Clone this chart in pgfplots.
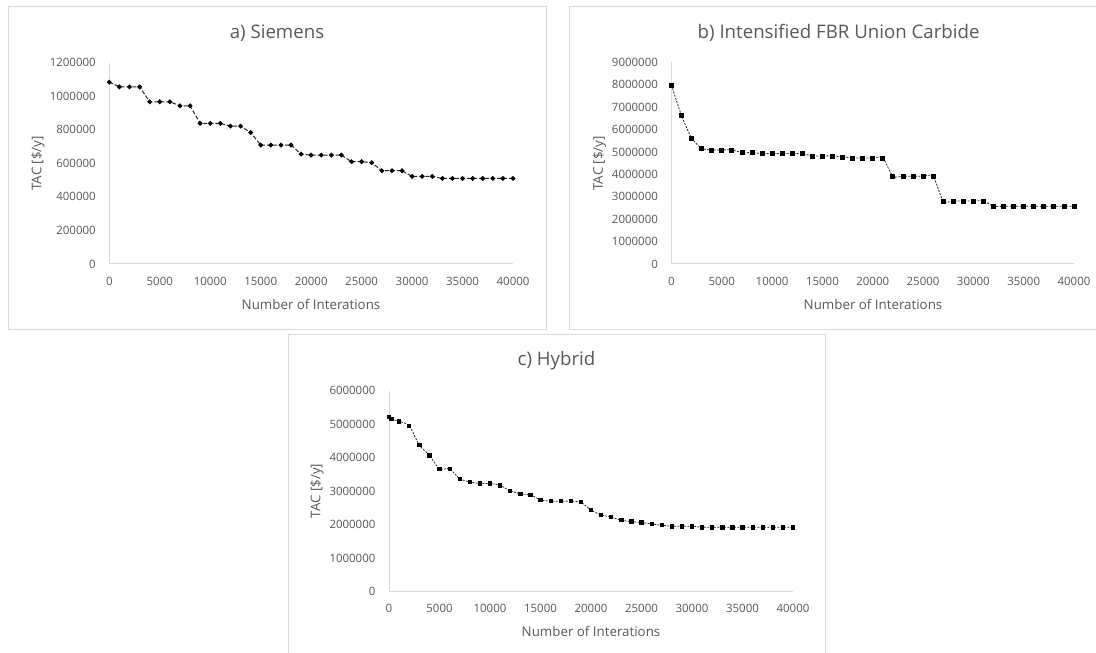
\documentclass[border=0pt]{standalone}
\usepackage{fontspec}
\setmainfont{Open Sans}
\usepackage{pgfplots}
\pgfplotsset{compat=1.18}
\definecolor{txt}{HTML}{595959}
\definecolor{axc}{HTML}{D9D9D9}
\definecolor{ln}{HTML}{262626}
\pgfplotsset{exc/.style={
 scale only axis, anchor=south west,
 xmin=0, xmax=40000, ymin=0,
 axis x line*=bottom, axis y line*=left,
 axis line style={axc, line width=0.75pt},
 major tick length=0pt,
 xtick={0,5000,...,40000},
 tick label style={font=\fontsize{8.6}{10}\selectfont, text=txt, inner sep=0pt},
 xticklabel style={anchor=center, yshift=-12.75pt},
 yticklabel style={anchor=east, xshift=-10pt},
 scaled ticks=false,
 /pgf/number format/fixed,
 /pgf/number format/precision=0,
 /pgf/number format/1000 sep={},
 /pgf/number format/assume math mode=true,
 clip=false,
}}
\pgfplotstableread{
x y
0 1084000
1000 1056000
2000 1056000
3000 1056000
4000 967000
5000 967000
6000 967000
7000 943000
8000 943000
9000 838000
10000 838000
11000 838000
12000 822000
13000 822000
14000 784000
15000 709000
16000 709000
17000 709000
18000 709000
19000 655000
20000 649000
21000 649000
22000 649000
23000 649000
24000 610000
25000 610000
26000 604000
27000 556000
28000 556000
29000 556000
30000 522000
31000 522000
32000 522000
33000 510000
34000 510000
35000 510000
36000 510000
37000 510000
38000 510000
39000 510000
40000 510000
}\dataA
\pgfplotstableread{
x y
0 7976000
1000 6622000
2000 5625000
3000 5164000
4000 5089000
5000 5089000
6000 5089000
7000 4970000
8000 4970000
9000 4926000
10000 4926000
11000 4926000
12000 4926000
13000 4926000
14000 4821000
15000 4821000
16000 4821000
17000 4777000
18000 4732000
19000 4732000
20000 4732000
21000 4732000
22000 3914000
23000 3914000
24000 3914000
25000 3914000
26000 3914000
27000 2813000
28000 2813000
29000 2813000
30000 2813000
31000 2813000
32000 2574000
33000 2574000
34000 2574000
35000 2574000
36000 2574000
37000 2574000
38000 2574000
39000 2574000
40000 2574000
}\dataB
\pgfplotstableread{
x y
0 5224000
240 5155000
1000 5085000
2000 4955000
3000 4377000
4000 4068000
5000 3669000
6000 3669000
7000 3370000
8000 3280000
9000 3230000
10000 3230000
11000 3170000
12000 3011000
13000 2921000
14000 2891000
15000 2742000
16000 2702000
17000 2702000
18000 2702000
19000 2672000
20000 2433000
21000 2293000
22000 2223000
23000 2134000
24000 2094000
25000 2064000
26000 2024000
27000 1984000
28000 1954000
29000 1954000
30000 1954000
31000 1924000
32000 1924000
33000 1924000
34000 1924000
35000 1924000
36000 1924000
37000 1924000
38000 1924000
39000 1924000
40000 1924000
}\dataC
\begin{document}
\begin{tikzpicture}
\useasboundingbox (0pt,0pt) rectangle (822pt,489.75pt);
\clip (0pt,0pt) rectangle (822pt,489.75pt);
\fill[white] (0pt,0pt) rectangle (822pt,489.75pt);
\draw[axc, line width=0.75pt] (6pt,242.25pt) rectangle (409.5pt,484.5pt);
\draw[axc, line width=0.75pt] (426.75pt,242.25pt) rectangle (831pt,484.5pt);
\draw[axc, line width=0.75pt] (216pt,-5pt) rectangle (618.75pt,238.5pt);
% panel a
\begin{axis}[exc, at={(81.98pt,291.75pt)}, width=302.8pt, height=150.98pt,
  ymax=1200000, ytick={0,200000,...,1200000}]
\addplot[ln, line width=0.75pt, dash pattern=on 3pt off 1.5pt, mark=*, mark size=1.4pt, mark options={solid, fill=black, draw=black}] table[x=x,y=y] {\dataA};
\end{axis}
% panel b
\begin{axis}[exc, at={(503.6pt,291.75pt)}, width=301.9pt, height=151.3pt,
  ymax=9000000, ytick={0,1000000,...,9000000}]
\addplot[ln, line width=0.6pt, dash pattern=on 1.5pt off 1pt, smooth, tension=0.4, mark=square*, mark size=1.5pt, mark options={solid, fill=black, draw=black}] table[x=x,y=y] {\dataB};
\end{axis}
% panel c
\begin{axis}[exc, at={(291.75pt,45.98pt)}, width=303pt, height=150.75pt,
  ymax=6000000, ytick={0,1000000,...,6000000}]
\addplot[ln, line width=0.6pt, dash pattern=on 1.5pt off 1pt, smooth, tension=0.4, mark=square*, mark size=1.25pt, mark options={solid, fill=black, draw=black}] table[x=x,y=y] {\dataC};
\end{axis}
% titles
\node[text=txt, font=\fontsize{14}{16}\selectfont] at (207.75pt,464.8pt) {a) Siemens};
\node[text=txt, font=\fontsize{14}{16}\selectfont] at (628.95pt,464.8pt) {b) Intensified FBR Union Carbide};
\node[text=txt, font=\fontsize{14}{16}\selectfont] at (417.4pt,219.2pt) {c) Hybrid};
% x labels
\node[text=txt, font=\fontsize{10}{12}\selectfont] at (233.25pt,261.75pt) {Number of Interations};
\node[text=txt, font=\fontsize{10}{12}\selectfont] at (654.75pt,261.75pt) {Number of Interations};
\node[text=txt, font=\fontsize{10}{12}\selectfont] at (443.25pt,15.98pt) {Number of Interations};
% y labels
\node[text=txt, font=\fontsize{10}{12}\selectfont, rotate=90] at (28.35pt,367.3pt) {TAC [\$/y]};
\node[text=txt, font=\fontsize{10}{12}\selectfont, rotate=90] at (449.5pt,367.3pt) {TAC [\$/y]};
\node[text=txt, font=\fontsize{10}{12}\selectfont, rotate=90] at (237.75pt,121.4pt) {TAC [\$/y]};
\end{tikzpicture}
\end{document}
